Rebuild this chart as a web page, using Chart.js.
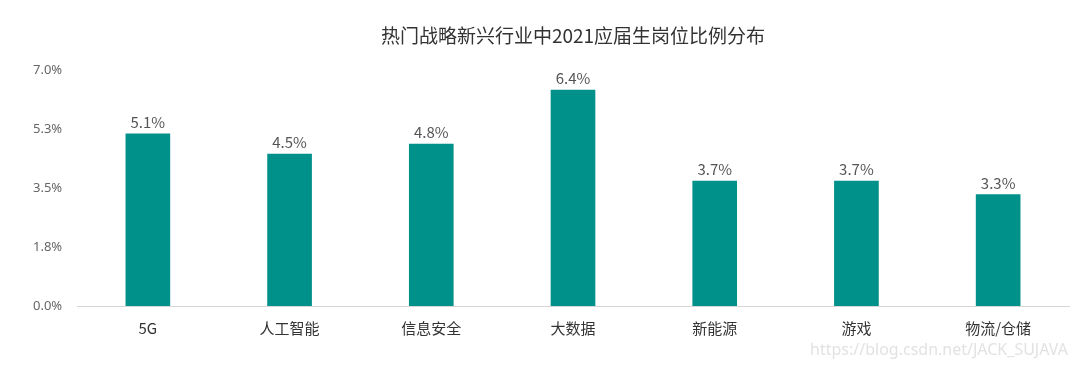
<!DOCTYPE html>
<html>
<head>
<meta charset="utf-8">
<script src="https://cdn.jsdelivr.net/npm/chart.js@4/dist/chart.umd.min.js"></script>
<style>
  html, body { margin: 0; padding: 0; background: #fff; }
  #wrap { position: relative; width: 1080px; height: 367px; }
  .mark { position: absolute; right: 12px; bottom: 7px; font: 16px "Noto Sans", sans-serif; color: #e2e2e2; }
</style>
</head>
<body>
<div id="wrap">
  <canvas id="chart" width="1080" height="367"></canvas>
  <div class="mark">https://blog.csdn.net/JACK_SUJAVA</div>
</div>
<script>
const categories = ['5G', '人工智能', '信息安全', '大数据', '新能源', '游戏', '物流/仓储'];
const shares = [5.1, 4.5, 4.8, 6.4, 3.7, 3.7, 3.3];
const yTicks = [0, 1.75, 3.5, 5.25, 7];

const cjk = '"Noto Sans CJK SC", "Noto Sans", sans-serif';

// value labels above each bar
const valueLabels = {
  id: 'valueLabels',
  afterDatasetsDraw(chart) {
    const ctx = chart.ctx;
    const meta = chart.getDatasetMeta(0);
    ctx.save();
    ctx.fillStyle = '#555';
    ctx.font = '15px ' + cjk;
    ctx.textAlign = 'center';
    ctx.textBaseline = 'bottom';
    meta.data.forEach((bar, i) => {
      ctx.fillText(shares[i].toFixed(1) + '%', bar.x, bar.y - 4);
    });
    ctx.restore();
  }
};

new Chart(document.getElementById('chart').getContext('2d'), {
  type: 'bar',
  data: {
    labels: categories,
    datasets: [{
      data: shares,
      backgroundColor: '#00918a',
      barThickness: 44
    }]
  },
  options: {
    responsive: false,
    animation: false,
    layout: { padding: { left: 33, right: 11, top: 14, bottom: 25 } },
    plugins: {
      legend: { display: false },
      tooltip: { enabled: false },
      title: {
        display: true,
        fullSize: false,
        text: '热门战略新兴行业中2021应届生岗位比例分布',
        color: '#333',
        font: { family: cjk, size: 19, weight: 'normal' },
        padding: { top: 10, bottom: 23 }
      }
    },
    scales: {
      x: {
        grid: { display: false },
        border: { display: true, color: '#d6d6d6' },
        ticks: { color: '#333', font: { family: cjk, size: 15 }, padding: 5 }
      },
      y: {
        min: 0,
        max: 7,
        afterBuildTicks: axis => { axis.ticks = yTicks.map(v => ({ value: v })); },
        afterFit: axis => { axis.width = 44; },
        grid: { display: false },
        border: { display: false },
        ticks: {
          color: '#666',
          crossAlign: 'far',
          font: { family: '"Noto Sans", sans-serif', size: 13 },
          callback: v => v.toFixed(1) + '%'
        }
      }
    }
  },
  plugins: [valueLabels]
});
</script>
</body>
</html>
